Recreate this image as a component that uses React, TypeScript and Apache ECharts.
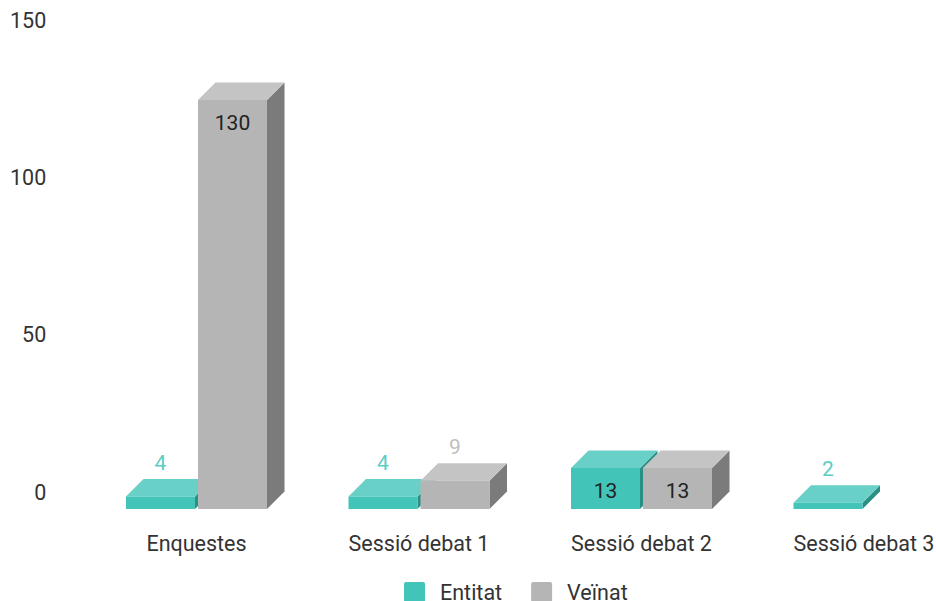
import React, { useEffect, useRef } from "react";
import * as echarts from "echarts";

const categories = ["Enquestes", "Sessió debat 1", "Sessió debat 2", "Sessió debat 3"];
const entitat: (number | null)[] = [4, 4, 13, 2];
const veinat: (number | null)[] = [130, 9, 13, null];
const yTicks = { min: 0, max: 150, interval: 50 };

const FONT = "Roboto, sans-serif";
const DEPTH = 17.5;
const BAR_W = 69;
const GAP = 3;

const tealShades = { front: "#43c4b9", top: "#68d0c6", side: "#2b8f86", label: "#5ccdc3" };
const grayShades = { front: "#b5b5b5", top: "#c4c4c4", side: "#7b7b7b", label: "#bfbfbf" };

function makeRender(seriesIndex: number, shades: typeof tealShades) {
  return (_params: any, api: any) => {
    const v = api.value(1);
    const base = api.coord([api.value(0), 0]);
    const top = api.coord([api.value(0), v]);
    const x0 = seriesIndex === 0 ? base[0] - GAP / 2 - BAR_W : base[0] + GAP / 2;
    const x1 = x0 + BAR_W;
    const y0 = base[1];
    const y1 = top[1];
    const inside = y0 - y1 > 30;
    return {
      type: "group",
      children: [
        { type: "polygon", shape: { points: [[x1, y0], [x1 + DEPTH, y0 - DEPTH], [x1 + DEPTH, y1 - DEPTH], [x1, y1]] }, style: { fill: shades.side } },
        { type: "polygon", shape: { points: [[x0, y1], [x0 + DEPTH, y1 - DEPTH], [x1 + DEPTH, y1 - DEPTH], [x1, y1]] }, style: { fill: shades.top } },
        { type: "rect", shape: { x: x0, y: y1, width: BAR_W, height: y0 - y1 }, style: { fill: shades.front } },
        {
          type: "text",
          style: {
            text: String(v),
            x: (x0 + x1) / 2,
            y: inside ? y1 + 23 : y1 - 33.5,
            align: "center",
            verticalAlign: "middle",
            fill: inside ? "#222222" : shades.label,
            font: `21px ${FONT}`,
          },
        },
      ],
    };
  };
}

const toData = (vals: (number | null)[]) =>
  vals.map((v, i) => (v == null ? null : [i, v])).filter(Boolean);

export default function App() {
  const ref = useRef<HTMLDivElement>(null);
  useEffect(() => {
    const chart = echarts.init(ref.current!, undefined, { renderer: "svg" });
    chart.setOption({
      animation: false,
      grid: { left: 85.25, top: 37, width: 890, height: 472, containLabel: false, outerBoundsMode: "none" },
      xAxis: {
        type: "category",
        data: categories,
        axisLine: { show: false },
        axisTick: { show: false },
        axisLabel: { interval: 0, margin: 23, color: "#333333", fontFamily: FONT, fontSize: 21.5, hideOverlap: false },
      },
      yAxis: {
        type: "value",
        ...yTicks,
        axisLine: { show: false },
        axisTick: { show: false },
        splitLine: { show: false },
        axisLabel: { margin: 39, color: "#333333", fontFamily: FONT, fontSize: 21.5, verticalAlign: "bottom", lineHeight: 34 },
      },
      legend: {
        left: 404,
        top: 581,
        itemWidth: 21,
        itemHeight: 20,
        itemGap: 29,
        padding: 0,
        icon: "path://M2 0H19A2 2 0 0 1 21 2V18A2 2 0 0 1 19 20H2A2 2 0 0 1 0 18V2A2 2 0 0 1 2 0Z",
        textStyle: { color: "#333333", fontFamily: FONT, fontSize: 21.5, lineHeight: 18, padding: [0, 0, 0, 10] },
        data: ["Entitat", "Veïnat"],
      },
      series: [
        {
          type: "custom",
          name: "Entitat",
          itemStyle: { color: tealShades.front },
          encode: { x: 0, y: 1 },
          clip: false,
          data: toData(entitat),
          renderItem: makeRender(0, tealShades),
        },
        {
          type: "custom",
          name: "Veïnat",
          itemStyle: { color: grayShades.front },
          encode: { x: 0, y: 1 },
          clip: false,
          data: toData(veinat),
          renderItem: makeRender(1, grayShades),
        },
      ],
    });
    return () => chart.dispose();
  }, []);
  return <div ref={ref} style={{ position: "absolute", left: 0, top: 0, width: 936, height: 601, overflow: "hidden" }} />;
}
